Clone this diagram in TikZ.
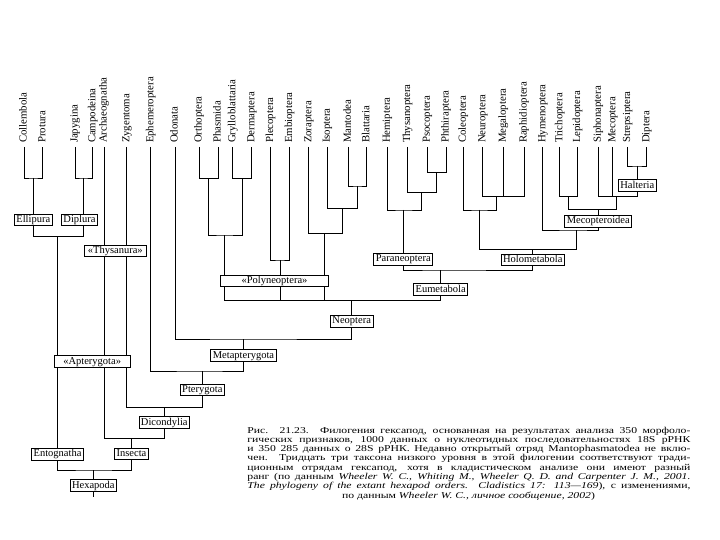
\documentclass[tikz,border=0pt]{standalone}
\usepackage{fontspec}
\usepackage{graphicx}
\setmainfont{Liberation Serif}
\newcommand{\capline}[1]{\scalebox{1.3}[1]{\makebox[340.8pt][s]{#1}}}

\begin{document}
\begin{tikzpicture}[x=1pt, y=-1pt, line width=0.85pt,
        taxon/.style={rotate=90, anchor=west, inner sep=0pt, outer sep=4pt,
            text height=7.5pt, text depth=2.3pt, font=\fontsize{10.8}{12}\selectfont},
        clade/.style={draw, fill=white, inner xsep=2pt, inner ysep=1.2pt,
            text height=7.3pt, text depth=2pt, font=\fontsize{10.5}{12}\selectfont},
        capstyle/.style={anchor=base west, inner sep=0pt,
            font=\fontsize{9}{9.3}\selectfont}]
        \useasboundingbox (0,0) rectangle (720,540);

        % orders
        \foreach \x/\n/\t in {24/coll/Collembola, 42.7/prot/Protura, 75/japy/Japygina,
            92.7/camp/Campodeina, 104/arch/Archaeognatha, 126.7/zyge/Zygentoma,
            150.7/ephe/Ephemeroptera, 175/odon/Odonata, 199/orth/Orthoptera,
            218/phas/Phasmida, 232.7/gryl/Grylloblattaria, 251.7/derm/Dermaptera,
            270.5/plec/Plecoptera, 289.5/embi/Embioptera, 308.7/zora/Zoraptera,
            327.2/isop/Isoptera, 348.2/mant/Mantodea, 366.7/blat/Blattaria,
            387.2/hemi/Hemiptera, 407.5/thys/Thysanoptera, 427.3/psoc/Psocoptera,
            446/phth/Phthiraptera, 463.3/cole/Coleoptera, 482.7/neur/Neuroptera,
            503.3/mega/Megaloptera, 524/raph/Raphidioptera, 542.7/hyme/Hymenoptera,
            559.7/tric/Trichoptera, 577.5/lepi/Lepidoptera, 598.3/siph/Siphonaptera,
            612.7/meco/Mecoptera, 627.5/stre/Strepsiptera, 646.7/dipt/Diptera}
            \node [taxon] (\n) at (\x,147) {\t};

        % clades
        \node [clade] (ellip) at (33.3,220) {Ellipura};
        \node [clade] (dipl) at (79.5,220) {Diplura};
        \node [clade] (entog) at (57.5,454.3) {Entognatha};
        \node [clade] (insec) at (131.5,454) {Insecta};
        \node [clade] (hexap) at (93.3,485.7) {Hexapoda};
        \node [clade] (dicon) at (164.3,422.7) {Dicondylia};
        \node [clade] (ptery) at (202.3,390) {Pterygota};
        \node [clade] (metap) at (243.5,355.7) {Metapterygota};
        \node [clade] (neopt) at (351.7,321.3) {Neoptera};
        \node [clade] (eumet) at (440.7,289.5) {Eumetabola};
        \node [clade] (paran) at (403.3,259.2) {Paraneoptera};
        \node [clade] (holom) at (532.8,259.8) {Holometabola};
        \node [clade] (mecop) at (598.3,221.2) {Mecopteroidea};
        \node [clade] (halte) at (637.3,185.5) {Halteria};

        % Entognatha
        \coordinate (jcp) at (33.3,178);
        \coordinate (jjc) at (83.3,178);
        \coordinate (jed) at (57.5,236.7);
        \draw (coll.west) |- (jcp) -| (prot.west);
        \draw (jcp) -- (ellip.north);
        \draw (japy.west) |- (jjc) -| (camp.west);
        \draw (jjc) -- (jjc |- dipl.north);
        \draw (ellip.south) |- (jed) -| (jjc |- dipl.south);
        \draw (jed) -- (entog.north);

        % Hexapoda
        \coordinate (jei) at (93.3,470);
        \coordinate (root) at (93.3,497);
        \draw (entog.south) |- (jei) -| (insec.south);
        \draw (jei) -- (hexap.north);
        \draw (hexap.south) -- (root);

        % Insecta down to Metapterygota
        \coordinate (jad) at (131.5,438.3);
        \coordinate (jzp) at (164.3,407.3);
        \coordinate (jem) at (202.3,371);
        \coordinate (jon) at (243.5,339);
        \draw (arch.west) |- (jad) -| (dicon.south);
        \draw (jad) -- (insec.north);
        \draw (zyge.west) |- (jzp) -| (ptery.south);
        \draw (jzp) -- (dicon.north);
        \draw (ephe.west) |- (jem) -| (metap.south);
        \draw (jem) -- (ptery.north);
        \draw (odon.west) |- (jon) -| (neopt.south);
        \draw (jon) -- (metap.north);

        % Polyneoptera
        \coordinate (jop) at (208.5,178.3);
        \coordinate (jgd) at (242.2,178.3);
        \coordinate (jog) at (224,235);
        \coordinate (jpl) at (280,260);
        \coordinate (jmb) at (357.5,186);
        \coordinate (jim) at (342,208.3);
        \coordinate (jzi) at (324,233.3);
        \coordinate (jneo) at (351.7,300.7);
        \draw (orth.west) |- (jop) -| (phas.west);
        \draw (gryl.west) |- (jgd) -| (derm.west);
        \draw (jop) |- (jog) -| (jgd);
        \draw (plec.west) |- (jpl) -| (embi.west);
        \draw (mant.west) |- (jmb) -| (blat.west);
        \draw (isop.west) |- (jim) -| (jmb);
        \draw (zora.west) |- (jzi) -| (jim);
        \draw (jog) |- (jneo) -| (eumet.south);
        \draw (jpl) -- (jpl |- jneo);
        \draw (jzi) -- (jzi |- jneo);
        \draw (jneo) -- (neopt.north);

        % Paraneoptera
        \coordinate (jpp) at (436.7,172.7);
        \coordinate (jtp) at (421.7,192.3);
        \coordinate (jht) at (403.3,210);
        \coordinate (jeu) at (440.7,270);
        \draw (psoc.west) |- (jpp) -| (phth.west);
        \draw (thys.west) |- (jtp) -| (jpp);
        \draw (hemi.west) |- (jht) -| (jtp);
        \draw (jht) -- (paran.north);
        \draw (paran.south) |- (jeu) -| (holom.south);
        \draw (jeu) -- (eumet.north);

        % Holometabola
        \coordinate (jnr) at (496.7,196.7);
        \coordinate (jcn) at (479,210);
        \coordinate (jsd) at (637.3,166);
        \coordinate (jtl) at (568.3,196.7);
        \coordinate (jsh) at (616.7,196.7);
        \coordinate (jts) at (598.3,209.3);
        \coordinate (jhm) at (576,230);
        \coordinate (jho) at (532.8,249.3);
        \draw (neur.west) |- (jnr) -| (raph.west);
        \draw (mega.west) -- (mega.west |- jnr);
        \draw (cole.west) |- (jcn) -| (jnr);
        \draw (stre.west) |- (jsd) -| (dipt.west);
        \draw (jsd) -- (halte.north);
        \draw (siph.west) |- (jsh) -| (halte.south);
        \draw (meco.west) -- (meco.west |- jsh);
        \draw (tric.west) |- (jtl) -| (lepi.west);
        \draw (jtl) |- (jts) -| (jsh);
        \draw (jts) -- (mecop.north);
        \draw (hyme.west) |- (jhm) -| (mecop.south);
        \draw (jcn) |- (jho) -| (jhm);
        \draw (jho) -- (holom.north);

        % paraphyletic groups over the branches
        \node [clade, minimum width=62.7pt] (thysa) at (115.3,250.8) {«Thysanura»};
        \node [clade, minimum width=75.7pt] (apter) at (92.2,361.5) {«Apterygota»};
        \node [clade, minimum width=107.6pt] (polyn) at (274.5,281) {«Polyneoptera»};

        % caption
        \node [capstyle] (cap1) at (247,433) {\capline{Рис. 21.23. Филогения гексапод, основанная на результатах анализа 350 морфоло-}};
        \node [capstyle] (cap2) at (247,442.3) {\capline{гических признаков, 1000 данных о нуклеотидных последовательностях 18S рРНК}};
        \node [capstyle] (cap3) at (247,451.6) {\capline{и 350 285 данных о 28S рРНК. Недавно открытый отряд Mantophasmatodea не вклю-}};
        \node [capstyle] (cap4) at (247,460.9) {\capline{чен. Тридцать три таксона низкого уровня в этой филогении соответствуют тради-}};
        \node [capstyle] (cap5) at (247,470.2) {\capline{ционным отрядам гексапод, хотя в кладистическом анализе они имеют разный}};
        \node [capstyle] (cap6) at (247,479.5) {\capline{ранг (по данным \textit{Wheeler W. C., Whiting M., Wheeler Q. D. and Carpenter J. M., 2001.}}};
        \node [capstyle] (cap7) at (247,488.8) {\capline{\textit{The phylogeny of the extant hexapod orders. Cladistics 17: 113—169}), с изменениями,}};
        \node [capstyle, anchor=base] (cap8) at (468.5,498.1) {\scalebox{1.3}[1]{по данным \textit{Wheeler W. C., личное сообщение, 2002})}};
    \end{tikzpicture}
\end{document}
